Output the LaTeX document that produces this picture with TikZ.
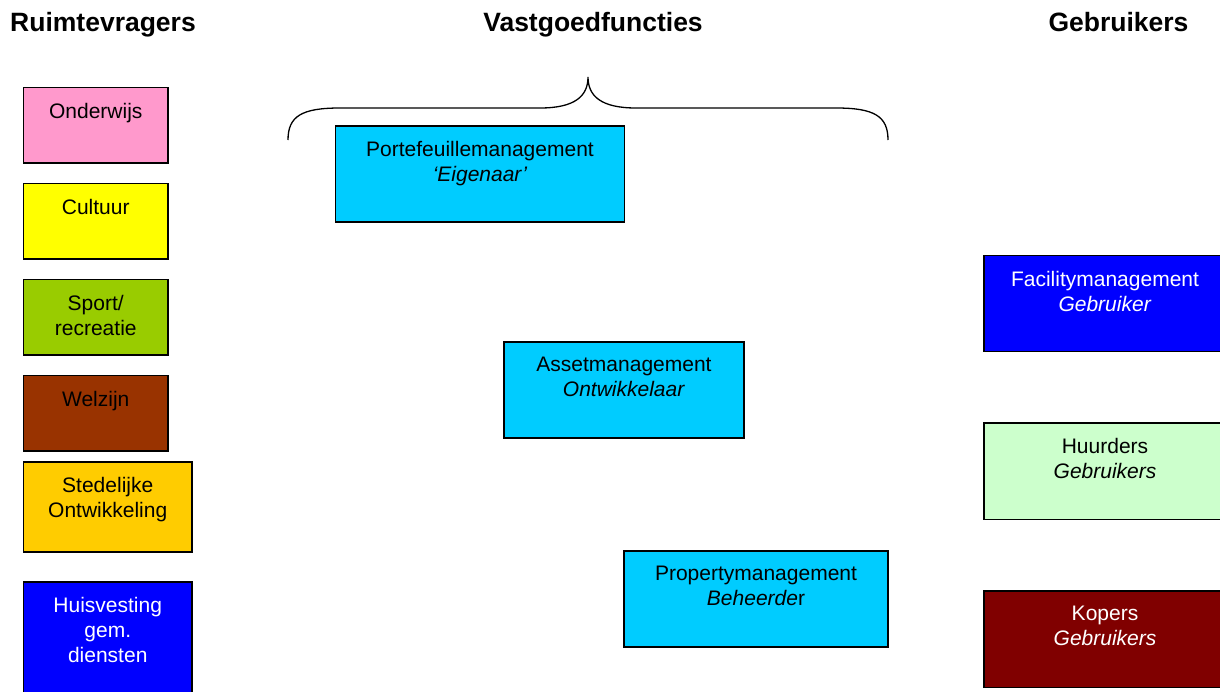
\documentclass[tikz,border=0pt]{standalone}
\usepackage{fontspec}
\setmainfont{Liberation Sans}
\usetikzlibrary{fit,calc}
\definecolor{cpink}{HTML}{FF99CC}
\definecolor{cyel}{HTML}{FFFF00}
\definecolor{cgreen}{HTML}{99CC00}
\definecolor{cbrown}{HTML}{993300}
\definecolor{corange}{HTML}{FFCC00}
\definecolor{cblue}{HTML}{0000FF}
\definecolor{ccyan}{HTML}{00CCFF}
\definecolor{clgreen}{HTML}{CCFFCC}
\definecolor{cmaroon}{HTML}{800000}
\tikzset{
  boxst/.style={draw=black, line width=1.4pt, inner sep=0pt, rectangle},
  txtst/.style={anchor=north, inner sep=0pt, align=center, font=\fontsize{21}{25}\selectfont},
  titlest/.style={anchor=base, inner sep=0pt, font=\fontsize{26.5}{30}\selectfont\bfseries},
  bracest/.style={draw=black, line width=1.3pt}
}
\newcommand\mkbox[7]{%
  \node[boxst, fill=#6, fit={(#2,#3)(#4,#5)}] (#1) {};
  \node[txtst, text=#7] (#1-t) at ($(#1.north)+(0,16)$)}
\begin{document}
\begin{tikzpicture}[x=1pt,y=-1pt]
\useasboundingbox (0,0) rectangle (1220,691);
\clip (0,0) rectangle (1220,691);
% titles
\node[titlest] (t1) at (103,31) {Ruimtevragers};
\node[titlest] (t2) at (593,31) {Vastgoedfuncties};
\node[titlest] (t3) at (1118.5,31) {Gebruikers};
% left column
\mkbox{onderwijs}{23.5}{87.5}{168}{163}{cpink}{black} {Onderwijs};
\mkbox{cultuur}{23.5}{183.5}{168}{259}{cyel}{black} {Cultuur};
\mkbox{sport}{23.5}{279.5}{168}{355}{cgreen}{black} {Sport/\\recreatie};
\mkbox{welzijn}{23.5}{375.5}{168}{451}{cbrown}{black} {Welzijn};
\mkbox{stedelijk}{23.5}{462}{192}{552}{corange}{black} {Stedelijke\\Ontwikkeling};
\mkbox{huisvesting}{23.5}{582}{192}{710}{cblue}{white} {Huisvesting\\gem.\\diensten};
% middle
\mkbox{portefeuille}{335.5}{126}{624.5}{222}{ccyan}{black} {Portefeuillemanagement\\\textit{‘Eigenaar’}};
\mkbox{asset}{504}{342}{744}{438}{ccyan}{black} {Assetmanagement\\\textit{Ontwikkelaar}};
\mkbox{property}{624}{551}{888}{647}{ccyan}{black} {Propertymanagement\\\textit{Beheerde}r};
% right
\mkbox{facility}{984}{255.5}{1226}{351.5}{cblue}{white} {Facilitymanagement\\\textit{Gebruiker}};
\mkbox{huurders}{984}{423}{1226}{519.5}{clgreen}{black} {Huurders\\\textit{Gebruikers}};
\mkbox{kopers}{984}{591}{1226}{687.5}{cmaroon}{white} {Kopers\\\textit{Gebruikers}};
% brace
\draw[bracest] (288,140) .. controls (288,116) and (302,108) .. (340,108)
  -- (540,108) .. controls (575,108) and (588,96) .. (588,77)
  .. controls (588,96) and (601,108) .. (636,108)
  -- (836,108) .. controls (874,108) and (888,116) .. (888,140);
\end{tikzpicture}
\end{document}
